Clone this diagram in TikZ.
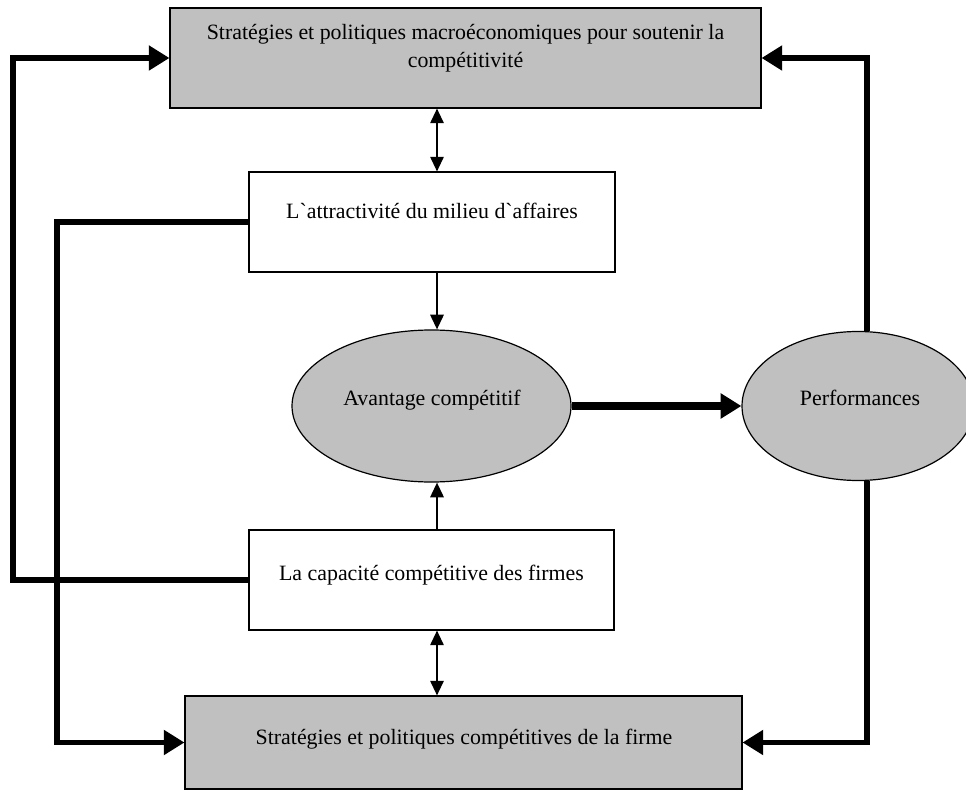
\documentclass[tikz,border=0pt]{standalone}
\usepackage{fontspec}
\setmainfont{Liberation Serif}[Ligatures=TeXOff]
\usetikzlibrary{arrows.meta,shapes.geometric}
\definecolor{boxgray}{HTML}{C0C0C0}
\begin{document}
\begin{tikzpicture}[x=0.75pt,y=-0.75pt,
  every node/.style={font=\fontsize{16.4}{21}\selectfont},
  boxshape/.style={draw,line width=0.8pt,inner sep=0pt},
  grayshape/.style={boxshape,fill=boxgray},
  ovalshape/.style={ellipse,draw,line width=0.9pt,fill=boxgray,inner sep=0pt},
  label text/.style={anchor=base,inner sep=0pt,align=center},
  thinarrow/.style={line width=1.5pt,-{Triangle[length=11pt,width=10pt]}},
  twoway/.style={line width=1.5pt,{Triangle[length=11pt,width=10pt]}-{Triangle[length=11pt,width=10pt]}},
  loop/.style={line width=3.9pt,-{Triangle[length=15.5pt,width=18pt]}},
  mainflow/.style={line width=5.3pt,-{Triangle[length=15.5pt,width=18pt]}}]
  \useasboundingbox (0,0) rectangle (966,791);

  % boxes and ovals
  \node[grayshape,minimum width=591*0.75pt,minimum height=100*0.75pt] (top) at (465.5,58) {};
  \node[boxshape,minimum width=366*0.75pt,minimum height=100*0.75pt] (attr) at (432,222) {};
  \node[ovalshape,minimum width=279*0.75pt,minimum height=152*0.75pt] (avant) at (431.5,406) {};
  \node[ovalshape,minimum width=232*0.75pt,minimum height=149*0.75pt] (perf) at (858,406) {};
  \node[boxshape,minimum width=365*0.75pt,minimum height=100*0.75pt] (capa) at (431.5,580) {};
  \node[grayshape,minimum width=557*0.75pt,minimum height=93*0.75pt] (bot) at (463.5,742.5) {};

  % texts
  \node[anchor=center,inner sep=0pt,align=center] (toptext) at (465.5,48)
    {Stratégies et politiques macroéconomiques pour soutenir la\\compétitivité};
  \node[label text] (attrtext) at (432,219) {L`attractivité du milieu d`affaires};
  \node[label text] (avanttext) at (432,405) {Avantage compétitif};
  \node[label text] (perftext) at (860,405) {Performances};
  \node[label text] (capatext) at (431.5,580) {La capacité compétitive des firmes};
  \node[label text] (bottext) at (464,744) {Stratégies et politiques compétitives de la firme};

  % guide columns for the connectors
  \coordinate (ax) at (437,0);
  \coordinate (xo) at (13,0);
  \coordinate (xi) at (57,0);
  \coordinate (xr) at (867,0);

  % central chain
  \draw[twoway] (top.south -| ax) -- (attr.north -| ax);
  \draw[thinarrow] (attr.south -| ax) -- (avant.north -| ax);
  \draw[thinarrow] (capa.north -| ax) -- (avant.south -| ax);
  \draw[twoway] (capa.south -| ax) -- (bot.north -| ax);
  \draw[mainflow] (avant.east) -- (perf.west);

  % feedback loops
  \draw[loop] (capa.west) -- (capa.west -| xo) |- (top.west);
  \draw[loop] (attr.west) -- (attr.west -| xi) |- (bot.west);
  \draw[loop] (perf.north -| xr) |- (top.east);
  \draw[loop] (perf.south -| xr) |- (bot.east);
\end{tikzpicture}
\end{document}
